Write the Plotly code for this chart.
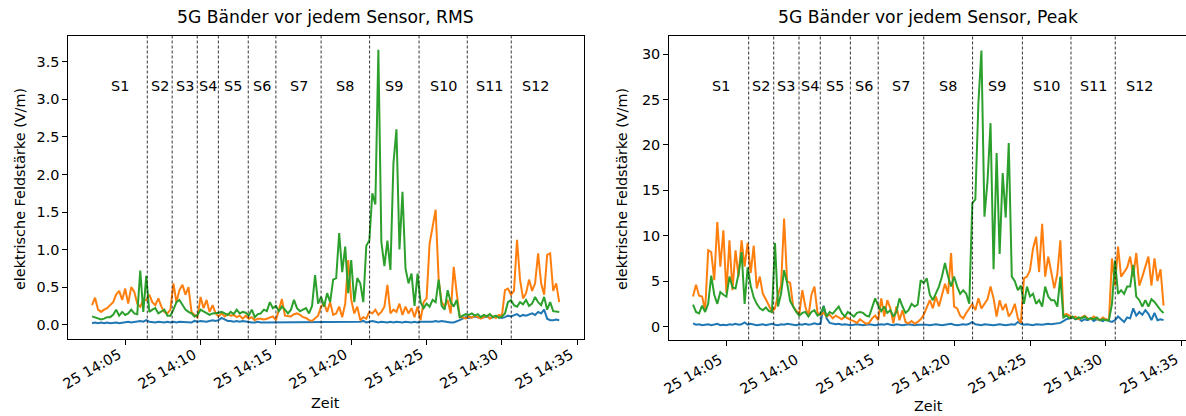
import pandas as pd
import plotly.graph_objects as go

# Sampling grid of the field-strength log (12 s steps)
times = pd.date_range("2021-11-25 14:02:48", periods=156, freq="12s")

# RMS field strength per band (V/m)
rms_blue = [
    0.02, 0.03, 0.02, 0.03, 0.02, 0.03, 0.02, 0.03, 0.03, 0.02,
    0.03, 0.03, 0.04, 0.03, 0.04, 0.05, 0.05, 0.04, 0.06, 0.04,
    0.03, 0.03, 0.04, 0.03, 0.03, 0.04, 0.03, 0.04, 0.03, 0.04,
    0.04, 0.03, 0.04, 0.03, 0.05, 0.04, 0.05, 0.04, 0.04, 0.05,
    0.06, 0.05, 0.06, 0.09, 0.07, 0.05, 0.05, 0.04, 0.05, 0.04,
    0.05, 0.04, 0.04, 0.03, 0.03, 0.04, 0.03, 0.03, 0.04, 0.03,
    0.03, 0.04, 0.03, 0.03, 0.04, 0.03, 0.03, 0.04, 0.03, 0.04,
    0.03, 0.03, 0.04, 0.03, 0.03, 0.04, 0.03, 0.03, 0.04, 0.03,
    0.03, 0.04, 0.03, 0.03, 0.04, 0.03, 0.03, 0.04, 0.03, 0.04,
    0.05, 0.03, 0.04, 0.05, 0.04, 0.03, 0.04, 0.03, 0.03, 0.04,
    0.03, 0.04, 0.03, 0.03, 0.04, 0.03, 0.03, 0.04, 0.03, 0.04,
    0.04, 0.03, 0.04, 0.04, 0.05, 0.04, 0.05, 0.04, 0.04, 0.03,
    0.03, 0.04, 0.06, 0.08, 0.10, 0.09, 0.10, 0.11, 0.10, 0.09,
    0.10, 0.11, 0.09, 0.10, 0.11, 0.10, 0.09, 0.10, 0.12, 0.11,
    0.13, 0.14, 0.11, 0.13, 0.12, 0.14, 0.15, 0.13, 0.17, 0.15,
    0.20, 0.08, 0.06, 0.06, 0.07, 0.06,
]
rms_orange = [
    0.26, 0.36, 0.20, 0.17, 0.20, 0.22, 0.26, 0.30, 0.40, 0.45,
    0.33, 0.48, 0.28, 0.50, 0.44, 0.28, 0.24, 0.33, 0.33, 0.40,
    0.30, 0.26, 0.35, 0.24, 0.17, 0.15, 0.20, 0.55, 0.30, 0.46,
    0.53, 0.40, 0.50, 0.17, 0.13, 0.10, 0.37, 0.22, 0.33, 0.17,
    0.26, 0.15, 0.11, 0.15, 0.11, 0.14, 0.12, 0.13, 0.10, 0.12,
    0.08, 0.12, 0.08, 0.10, 0.06, 0.08, 0.08, 0.07, 0.08, 0.10,
    0.11, 0.06, 0.20, 0.34, 0.12, 0.11, 0.11, 0.14, 0.15, 0.13,
    0.10, 0.09, 0.06, 0.05, 0.08, 0.12, 0.24, 0.28, 0.17, 0.30,
    0.13, 0.15, 0.24, 0.10, 0.28, 0.86, 0.33, 0.15, 0.24, 0.06,
    0.10, 0.08, 0.17, 0.15, 0.20, 0.13, 0.17, 0.24, 0.53, 0.15,
    0.20, 0.17, 0.28, 0.13, 0.24, 0.15, 0.22, 0.10, 0.24, 0.06,
    0.30, 0.35, 1.08, 1.28, 1.53, 0.60, 0.30, 0.24, 0.33, 0.15,
    0.77, 0.42, 0.10, 0.10, 0.08, 0.11, 0.09, 0.12, 0.10, 0.08,
    0.10, 0.12, 0.08, 0.11, 0.09, 0.13, 0.12, 0.46, 0.48, 0.40,
    0.45, 1.13, 0.60, 0.35, 0.42, 0.60, 0.45, 0.55, 0.95, 0.55,
    0.40, 0.93, 0.95, 0.45, 0.55, 0.30,
]
rms_green = [
    0.11, 0.10, 0.08, 0.07, 0.08, 0.10, 0.10, 0.13, 0.20, 0.12,
    0.17, 0.13, 0.15, 0.20, 0.15, 0.14, 0.72, 0.17, 0.65, 0.17,
    0.20, 0.22, 0.15, 0.17, 0.20, 0.12, 0.12, 0.20, 0.30, 0.33,
    0.26, 0.20, 0.17, 0.15, 0.11, 0.13, 0.20, 0.18, 0.15, 0.13,
    0.15, 0.15, 0.16, 0.17, 0.15, 0.13, 0.17, 0.14, 0.20, 0.15,
    0.17, 0.16, 0.12, 0.20, 0.10, 0.14, 0.15, 0.20, 0.18, 0.30,
    0.22, 0.25, 0.18, 0.24, 0.20, 0.15, 0.20, 0.33, 0.22, 0.18,
    0.20, 0.22, 0.15, 0.25, 0.66, 0.28, 0.37, 0.24, 0.42, 0.30,
    0.60, 0.62, 1.22, 0.70, 1.04, 0.42, 0.86, 0.30, 0.62, 0.55,
    0.30, 1.05, 1.12, 1.75, 1.60, 3.66, 1.10, 0.78, 1.12, 0.73,
    2.15, 2.60, 1.00, 1.77, 0.75, 0.55, 0.68, 0.25, 0.68, 0.30,
    0.22, 0.28, 0.24, 0.33, 0.30, 0.60, 0.25, 0.20, 0.46, 0.30,
    0.24, 0.33, 0.10, 0.12, 0.14, 0.13, 0.15, 0.12, 0.14, 0.10,
    0.13, 0.11, 0.14, 0.10, 0.12, 0.09, 0.11, 0.15, 0.30, 0.33,
    0.26, 0.24, 0.30, 0.27, 0.33, 0.25, 0.28, 0.37, 0.30, 0.26,
    0.37, 0.20, 0.30, 0.18, 0.17, 0.17,
]

# Peak field strength per band (V/m)
peak_blue = [
    0.35, 0.20, 0.25, 0.15, 0.20, 0.25, 0.15, 0.20, 0.30, 0.15,
    0.20, 0.15, 0.25, 0.20, 0.30, 0.20, 0.25, 0.45, 0.20, 0.30,
    0.20, 0.15, 0.20, 0.25, 0.15, 0.20, 0.30, 0.20, 0.15, 0.25,
    0.20, 0.30, 0.25, 0.20, 0.15, 0.25, 0.20, 0.30, 0.20, 0.25,
    0.35, 0.25, 0.30, 2.30, 0.90, 0.40, 0.30, 0.25, 0.30, 0.20,
    0.25, 0.20, 0.15, 0.20, 0.25, 0.20, 0.15, 0.20, 0.25, 0.20,
    0.15, 0.20, 0.25, 0.20, 0.30, 0.20, 0.15, 0.25, 0.20, 0.15,
    0.20, 0.25, 0.20, 0.15, 0.20, 0.20, 0.25, 0.20, 0.15, 0.20,
    0.25, 0.20, 0.15, 0.20, 0.25, 0.30, 0.20, 0.15, 0.20, 0.25,
    0.20, 0.30, 0.50, 0.25, 0.20, 0.15, 0.25, 0.20, 0.20, 0.15,
    0.20, 0.25, 0.20, 0.15, 0.20, 0.25, 0.20, 0.50, 0.30, 0.20,
    0.25, 0.20, 0.15, 0.25, 0.20, 0.20, 0.25, 0.30, 0.25, 0.30,
    0.30, 0.40, 0.60, 0.80, 0.90, 1.00, 0.80, 0.90, 0.60, 0.80,
    0.70, 0.90, 0.60, 0.80, 0.70, 0.60, 0.80, 0.60, 0.50, 0.70,
    1.10, 0.80, 0.50, 1.00, 0.90, 2.00, 1.20, 1.60, 1.30, 1.80,
    1.40, 0.70, 1.50, 0.70, 0.80, 0.70,
]
peak_orange = [
    3.3, 4.6, 3.4, 3.3, 1.8, 8.4, 8.2, 5.1, 11.5, 6.6,
    10.6, 3.7, 9.5, 4.0, 8.4, 5.5, 9.5, 6.6, 9.2, 5.9,
    8.9, 4.2, 5.5, 3.6, 3.0, 2.2, 1.6, 2.0, 3.5, 4.5,
    11.9, 5.0, 4.8, 2.2, 1.8, 1.3, 4.0, 2.2, 1.1, 3.5,
    4.4, 1.5, 1.3, 1.5, 1.1, 1.3, 0.9, 1.2, 1.0, 0.8,
    1.1, 0.9, 0.7, 0.6, 0.4, 0.8, 0.5, 0.3, 0.4, 0.9,
    1.2, 0.7, 3.1, 1.1, 2.9, 2.0, 0.35, 2.2, 0.7, 1.8,
    0.5, 0.35, 0.6, 0.3, 0.5, 0.8, 1.3, 2.2, 2.9, 2.0,
    3.3, 2.2, 3.6, 4.7, 3.6, 8.1, 2.2, 2.0, 1.2, 0.9,
    1.5, 2.0, 2.5, 1.8, 3.1, 2.0, 2.5, 3.0, 4.4, 3.1,
    1.1, 2.9, 1.8, 2.5, 1.1, 1.6, 2.5, 0.9, 0.4, 5.3,
    5.5, 6.2, 8.6, 9.9, 6.0, 11.3, 5.5, 7.7, 6.0, 4.2,
    5.8, 9.5, 1.2, 1.4, 1.2, 1.0, 1.1, 0.8, 1.0, 1.2,
    0.9, 0.8, 1.1, 0.9, 0.7, 1.0, 0.8, 0.7, 7.5, 4.5,
    8.8, 5.5, 6.0, 6.5, 7.7, 5.5, 8.1, 4.5, 5.5, 6.5,
    7.7, 4.5, 7.5, 5.0, 6.3, 2.3,
]
peak_green = [
    2.4, 1.6, 1.45, 2.3, 1.6, 2.5, 5.6, 3.5, 2.5, 3.8,
    3.5, 3.3, 5.5, 4.3, 4.2, 5.8, 8.2, 2.5, 6.5, 4.5,
    3.2, 2.5, 2.0, 1.8, 2.1, 1.7, 1.6, 9.2, 2.2, 3.6,
    6.2, 4.8, 2.8, 2.2, 1.6, 1.2, 1.5, 1.6, 1.1, 1.6,
    1.8, 1.2, 1.4, 2.2, 1.1, 1.6, 1.4, 1.8, 2.2, 1.5,
    1.1, 1.6, 1.3, 1.1, 1.5, 1.6, 1.5, 1.2, 1.1, 2.0,
    3.1, 2.3, 1.7, 2.2, 1.5, 1.8, 1.1, 1.6, 3.1, 2.2,
    1.5, 1.8, 2.5, 2.2, 2.4, 5.1, 4.8, 5.3, 3.5, 2.9,
    3.6, 4.4, 5.5, 7.0, 5.5, 4.4, 5.5, 4.4, 3.6, 4.0,
    3.6, 2.5, 13.6, 14.0, 24.6, 30.4, 12.1, 16.0, 22.4, 6.3,
    19.1, 8.0, 16.9, 12.0, 20.2, 5.5, 5.0, 4.0, 4.5, 2.5,
    4.4, 3.3, 3.6, 2.5, 2.9, 2.2, 4.4, 3.3, 2.9, 2.9,
    2.2, 5.5, 1.0, 1.2, 0.9, 1.1, 0.8, 1.0, 0.9, 1.1,
    0.8, 0.9, 0.8, 1.0, 0.7, 0.8, 0.7, 0.7, 2.5, 7.3,
    3.6, 4.0, 3.6, 4.4, 4.4, 6.8, 3.3, 2.9, 2.2, 2.9,
    2.2, 3.0, 2.7, 2.2, 1.8, 1.5,
]

# Moments the probe was moved to the next sensor
sensor_changes = [
    "2021-11-25 14:06:28", "2021-11-25 14:08:07", "2021-11-25 14:09:47",
    "2021-11-25 14:11:11", "2021-11-25 14:13:10", "2021-11-25 14:15:00",
    "2021-11-25 14:18:00", "2021-11-25 14:21:13", "2021-11-25 14:24:30",
    "2021-11-25 14:27:42", "2021-11-25 14:30:37",
]
sensor_names = ["S1", "S2", "S3", "S4", "S5", "S6",
                "S7", "S8", "S9", "S10", "S11", "S12"]

tick_times = ["2021-11-25 14:05", "2021-11-25 14:10", "2021-11-25 14:15",
              "2021-11-25 14:20", "2021-11-25 14:25", "2021-11-25 14:30",
              "2021-11-25 14:35"]
tick_labels = ["25 14:05", "25 14:10", "25 14:15", "25 14:20",
               "25 14:25", "25 14:30", "25 14:35"]

colors = ["#1f77b4", "#ff7f0e", "#2ca02c"]
FONT = "DejaVu Sans"
W, H = 1186, 416


def px_x(p):
    return p / W


def px_y(p):
    return (H - p) / H


fig = go.Figure()

panels = [
    ("x", "y", [rms_blue, rms_orange, rms_green]),
    ("x2", "y2", [peak_blue, peak_orange, peak_green]),
]
for xa, ya, series in panels:
    for vals, col in zip(series, colors):
        fig.add_trace(go.Scatter(
            x=times, y=vals, mode="lines", xaxis=xa, yaxis=ya,
            line=dict(color=col, width=2), showlegend=False,
            hoverinfo="skip"))

axis_common = dict(
    showline=True, linecolor="black", linewidth=1,
    ticks="outside", ticklen=5, tickwidth=1, tickcolor="black",
    showgrid=False, zeroline=False,
    tickfont=dict(family=FONT, size=14.4, color="black"),
)

x_dom_l = [px_x(68.3), px_x(583.5)]
x_dom_r = [px_x(669.1), 1.0]
y_dom_l = [px_y(338.5), px_y(35.5)]
y_dom_r = [px_y(339.5), px_y(36.0)]

fig.update_layout(
    width=W, height=H,
    margin=dict(l=0, r=0, t=0, b=0),
    paper_bgcolor="white", plot_bgcolor="white",
    font=dict(family=FONT, size=14.4, color="black"),
    xaxis=dict(axis_common, domain=x_dom_l, anchor="y", mirror=True,
               type="date",
               range=["2021-11-25 14:01:13.5", "2021-11-25 14:35:24.7"],
               tickmode="array", tickvals=tick_times, showticklabels=False),
    yaxis=dict(axis_common, domain=y_dom_l, anchor="x", mirror=True,
               range=[-0.184, 3.85], tickmode="linear", tick0=0, dtick=0.5,
               tickformat=".1f"),
    xaxis2=dict(axis_common, domain=x_dom_r, anchor="y2", mirror=True,
                type="date",
                range=["2021-11-25 14:01:13.5", "2021-11-25 14:35:16.6"],
                tickmode="array", tickvals=tick_times, showticklabels=False),
    yaxis2=dict(axis_common, domain=y_dom_r, anchor="x2", mirror=False,
                range=[-1.43, 32.0], tickmode="linear", tick0=0, dtick=5),
)

# Dashed separators between sensors
shapes = []
for xref, yref in [("x", "y domain"), ("x2", "y2 domain")]:
    for t in sensor_changes:
        shapes.append(dict(type="line", xref=xref, yref=yref,
                           x0=t, x1=t, y0=0, y1=1,
                           line=dict(color="black", width=0.8,
                                     dash="3px,2px")))
fig.update_layout(shapes=shapes)

# Sensor names centred in each segment
bounds = [times[0]] + [pd.Timestamp(t) for t in sensor_changes] + [times[-1]]
mids = [a + (b - a) / 2 for a, b in zip(bounds[:-1], bounds[1:])]

annotations = []
for xref in ["x", "x2"]:
    for name, m in zip(sensor_names, mids):
        annotations.append(dict(
            x=m, y=px_y(86), xref=xref, yref="paper", text=name,
            showarrow=False, xanchor="center", yanchor="middle",
            font=dict(family=FONT, size=14.4, color="black")))

# Rotated date labels under the time axes (right end aligned to the tick)
for xref, top in [("x", 345), ("x2", 350)]:
    for t, lab in zip(tick_times, tick_labels):
        annotations.append(dict(
            x=t, y=px_y(top), xref=xref, yref="paper", text=lab,
            textangle=-30, showarrow=False, xanchor="right", yanchor="top",
            borderpad=0,
            font=dict(family=FONT, size=14.4, color="black")))

titles = [("5G Bänder vor jedem Sensor, RMS", (68.3 + 583.5) / 2),
          ("5G Bänder vor jedem Sensor, Peak", (669.1 + 1187.4) / 2)]
for text, cx in titles:
    annotations.append(dict(
        x=px_x(cx), y=px_y(17), xref="paper", yref="paper", text=text,
        showarrow=False, xanchor="center", yanchor="middle",
        font=dict(family=FONT, size=17.2, color="black")))

for cx in [20, 622]:
    annotations.append(dict(
        x=px_x(cx), y=px_y(189), xref="paper", yref="paper",
        text="elektrische Feldstärke (V/m)", textangle=-90,
        showarrow=False, xanchor="center", yanchor="middle",
        font=dict(family=FONT, size=14.4, color="black")))

for cx, cy in [((68.3 + 583.5) / 2, 403), ((669.1 + 1187.4) / 2, 406)]:
    annotations.append(dict(
        x=px_x(cx), y=px_y(cy), xref="paper", yref="paper", text="Zeit",
        showarrow=False, xanchor="center", yanchor="middle",
        font=dict(family=FONT, size=14.4, color="black")))

fig.update_layout(annotations=annotations)

fig.write_html("out.html")
